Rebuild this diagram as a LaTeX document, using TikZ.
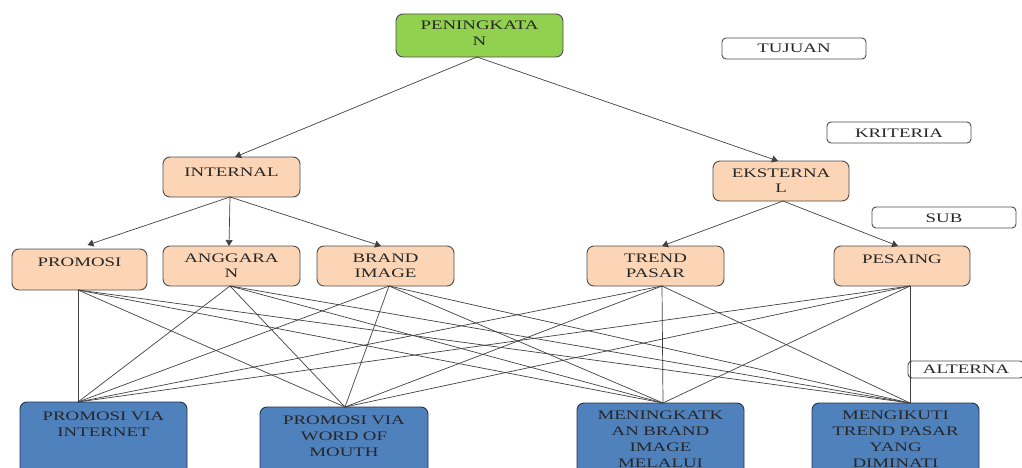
\documentclass[tikz,border=0pt]{standalone}
\usepackage{fontspec}
\setmainfont[FakeStretch=1.45]{Liberation Serif}
\usetikzlibrary{arrows.meta}
\definecolor{greenc}{HTML}{92D050}
\definecolor{peachc}{HTML}{FBD5B5}
\definecolor{bluec}{HTML}{4F81BD}
\begin{document}
\begin{tikzpicture}[x=1pt,y=-1pt,
  box/.style={draw=black!70, line width=0.9pt, rounded corners=7pt, inner sep=0pt, outer sep=0pt,
    align=center, anchor=north west, font=\fontsize{13}{15.5}\selectfont, text=black!85},
  dims/.style n args={3}{text width=#1pt, text height=#2pt, text depth=#3pt},
  greenbox/.style={box, fill=greenc},
  peachbox/.style={box, fill=peachc},
  bluebox/.style={box, fill=bluec, draw=black!60!bluec, font=\fontsize{13}{16.3}\selectfont},
  levelbox/.style={box, fill=white, rounded corners=4pt},
  conn/.style={draw=black!75, line width=0.7pt},
  arr/.style={conn, -{Triangle[width=7pt,length=6pt]}}
]
\clip (0,0) rectangle (1022,468);
% goal
\node[greenbox, dims={167}{16}{27}] (pen) at (396,14) {PENINGKATA\\N};
% level labels
\node[levelbox, dims={144}{15}{6}] (tuj) at (722,38) {TUJUAN};
\node[levelbox, dims={144}{15}{6}] (kri) at (827,122) {KRITERIA};
\node[levelbox, dims={144}{15}{6}] (sub) at (872,207) {SUB};
\node[levelbox, dims={116}{12}{5}] (alt) at (908,361) {ALTERNA};
% criteria
\node[peachbox, dims={137}{19}{21}] (int) at (163,157) {INTERNAL};
\node[peachbox, dims={136}{16}{24}] (eks) at (713,161) {EKSTERNA\\L};
% sub criteria
\node[peachbox, dims={135}{17}{24}] (pro) at (12,249) {PROMOSI};
\node[peachbox, dims={137}{16}{24}] (ang) at (163,246) {ANGGARA\\N};
\node[peachbox, dims={137}{16}{24}] (bra) at (317,246) {BRAND\\IMAGE};
\node[peachbox, dims={137}{16}{24}] (tre) at (587,246) {TREND\\PASAR};
\node[peachbox, dims={136}{17}{23}] (pes) at (834,246) {PESAING};
% alternatives
\node[bluebox, dims={167}{18}{62}] (a1) at (20,402) {PROMOSI VIA\\INTERNET};
\node[bluebox, dims={168}{17}{63}] (a2) at (260,407) {PROMOSI VIA\\WORD OF\\MOUTH};
\node[bluebox, dims={167}{16}{64}] (a3) at (577,403) {MENINGKATK\\AN BRAND\\IMAGE\\MELALUI};
\node[bluebox, dims={167}{16}{64}] (a4) at (812,403) {MENGIKUTI\\TREND PASAR\\YANG\\DIMINATI};
% attach points
\coordinate (pen-b) at ([xshift=-2.5pt]pen.south);
\coordinate (int-t) at ([xshift=3.5pt]int.north);
\coordinate (int-b) at ([xshift=-1.5pt]int.south);
\coordinate (eks-t) at ([xshift=-3pt]eks.north);
\coordinate (eks-b) at ([xshift=2pt]eks.south);
\coordinate (pro-t) at ([xshift=8pt,yshift=4pt]pro.north);
\coordinate (ang-t) at ([xshift=-2.5pt]ang.north);
\coordinate (bra-t) at ([xshift=-4.5pt]bra.north);
\coordinate (tre-t) at ([xshift=6.5pt]tre.north);
\coordinate (pes-t) at ([xshift=-4pt]pes.north);
\coordinate (pro-b) at ([xshift=-1.5pt]pro.south);
\coordinate (ang-b) at ([xshift=-1.5pt]ang.south);
\coordinate (bra-b) at ([xshift=3.5pt]bra.south);
\coordinate (tre-b) at ([xshift=6.5pt]tre.south);
\coordinate (pes-b) at ([xshift=8pt]pes.south);
\coordinate (a1-t) at ([xshift=-25.5pt]a1.north);
\coordinate (a2-t) at ([xshift=1pt]a2.north);
\coordinate (a3-t) at ([xshift=2.5pt]a3.north);
\coordinate (a4-t) at ([xshift=14.5pt]a4.north);
% hierarchy arrows
\draw[arr] (pen-b) -- (int-t);
\draw[arr] (pen-b) -- (eks-t);
\draw[arr] (int-b) -- (pro-t);
\draw[arr] (int-b) -- (ang-t);
\draw[arr] (int-b) -- (bra-t);
\draw[arr] (eks-b) -- (tre-t);
\draw[arr] (eks-b) -- (pes-t);
% sub criteria to alternatives
\foreach \s in {pro,ang,bra,tre,pes}{
  \foreach \a in {a1,a2,a3,a4}{
    \draw[conn] (\s-b) -- (\a-t);
  }
}
\end{tikzpicture}
\end{document}
